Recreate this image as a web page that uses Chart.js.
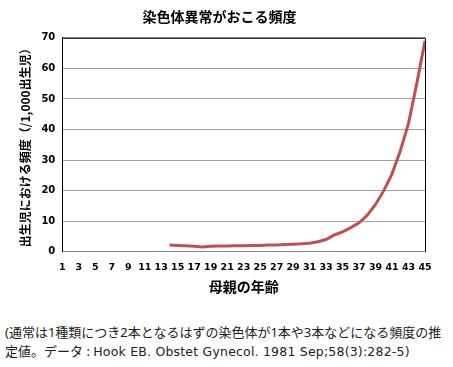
<!DOCTYPE html>
<html lang="ja">
<head>
<meta charset="utf-8">
<script src="https://cdn.jsdelivr.net/npm/chart.js@4/dist/chart.umd.min.js"></script>
<style>
  body { margin: 0; background: #fff; font-family: "Noto Sans", "Noto Sans CJK JP", sans-serif; }
  .chart_box { position: relative; width: 453px; height: 305px; }
  .note { margin: 18px 0 0 5px; font-size: 13px; line-height: 19px; color: #222; width: 445px; }
  .note .ref { font-family: "DejaVu Sans"; font-size: 12.5px; letter-spacing: 0.2px; }
</style>
</head>
<body>
<div class="chart_box"><canvas id="abnormal-chart"></canvas></div>
<div class="note">(通常は1種類につき2本となるはずの染色体が1本や3本などになる頻度の推定値。データ : <span class="ref">Hook EB. Obstet Gynecol. 1981 Sep;58(3):282-5)</span></div>
<script>
// --- データ ---
// 母親の年齢 1〜45（目盛りは奇数のみ表示）
const ages = [];
for (let a = 1; a <= 45; a++) ages.push(String(a));

// 14歳以降の頻度（/1,000出生児）、それ以前は空
const rateStartAge = 14;
const rates = [2.2, 2.1, 2.0, 1.8, 1.6, 1.8, 1.9, 1.9, 2.0, 2.0, 2.1, 2.1, 2.2, 2.2, 2.4, 2.5,
               2.6, 2.8, 3.3, 4.0, 5.5, 6.5, 7.9, 9.5, 12.0, 15.5, 20.0, 25.5, 33, 42, 55, 69];

const yTicks = [0, 10, 20, 30, 40, 50, 60, 70];

const seriesData = ages.map(a => {
    const i = Number(a) - rateStartAge;
    return i >= 0 ? rates[i] : null;
});

// 枠線（上と右）を描くプラグイン
const frame = {
    id: 'frame',
    afterDraw(chart) {
        const { ctx, chartArea: c } = chart;
        ctx.save();
        ctx.strokeStyle = '#000';
        ctx.lineWidth = 1;
        ctx.beginPath();
        ctx.moveTo(c.left, c.top + 0.5);
        ctx.lineTo(c.right + 0.5, c.top + 0.5);
        ctx.lineTo(c.right + 0.5, c.bottom);
        ctx.stroke();
        ctx.restore();
    }
};

const boldFont = (size) => ({ family: '"DejaVu Sans", Verdana, sans-serif', size, weight: 'bold' });
const jpFont = (size) => ({ family: '"Noto Sans CJK JP", sans-serif', size, weight: 'bold' });

new Chart(document.getElementById('abnormal-chart').getContext('2d'), {
    type: 'line',
    data: {
        labels: ages,
        datasets: [{
            data: seriesData,
            borderColor: '#c0504d',
            borderWidth: 3,
            pointRadius: 0,
            tension: 0,
            fill: false
        }]
    },
    options: {
        responsive: true,
        maintainAspectRatio: false,
        animation: false,
        layout: { padding: { top: 2, right: 28, left: 14, bottom: 8 } },
        plugins: {
            legend: { display: false },
            tooltip: { enabled: false },
            title: {
                display: true,
                text: '染色体異常がおこる頻度',
                color: '#000',
                font: jpFont(14),
                padding: { top: 6, bottom: 13 }
            }
        },
        scales: {
            x: {
                grid: { display: false },
                border: { color: '#888' },
                ticks: {
                    autoSkip: false,
                    maxRotation: 0,
                    color: '#000',
                    font: boldFont(9.5),
                    padding: 2,
                    callback: (v, i) => (i % 2 === 0 ? ages[i] : '')
                },
                title: {
                    display: true,
                    text: '母親の年齢',
                    color: '#000',
                    font: jpFont(14),
                    padding: { top: 3, bottom: 2 }
                }
            },
            y: {
                min: yTicks[0],
                max: yTicks[yTicks.length - 1],
                afterBuildTicks: (axis) => { axis.ticks = yTicks.map(v => ({ value: v })); },
                grid: { color: '#a0a0a0', drawTicks: false },
                border: { color: '#000' },
                ticks: { color: '#000', font: boldFont(10), padding: 7 },
                title: {
                    display: true,
                    text: '出生児における頻度（/1,000出生児）',
                    color: '#000',
                    font: jpFont(12),
                    padding: { bottom: 2 }
                }
            }
        }
    },
    plugins: [frame]
});
</script>
</body>
</html>
